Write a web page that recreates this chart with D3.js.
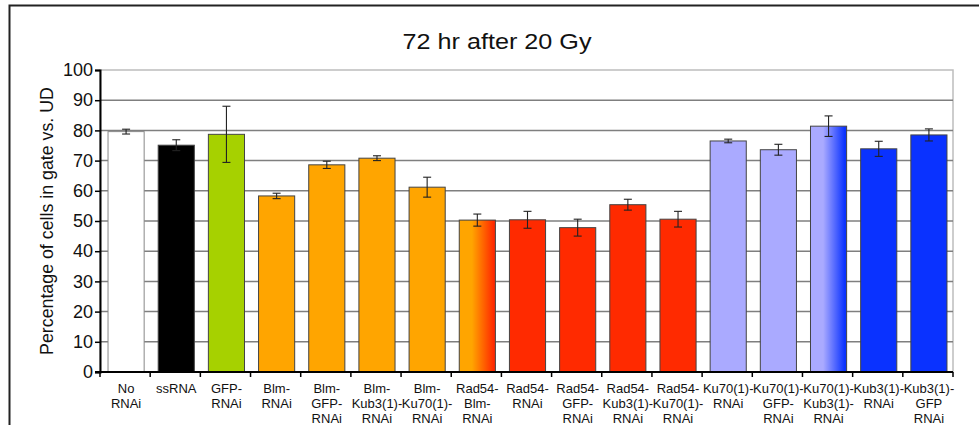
<!DOCTYPE html>
<html>
<head>
<meta charset="utf-8">
<script src="https://cdn.jsdelivr.net/npm/d3@7"></script>
<style>
  body { margin: 0; background: #fff; }
  svg text { font-family: "Liberation Sans", Arial, sans-serif; fill: #111; }
</style>
</head>
<body>
<div id="chart"></div>
<script>
/* global d3 */

// DATA
var categories = [
  'No|RNAi', 'ssRNA', 'GFP-|RNAi', 'Blm-|RNAi', 'Blm-|GFP-|RNAi', 'Blm-|Kub3(1)-|RNAi',
  'Blm-|Ku70(1)-|RNAi', 'Rad54-|Blm-|RNAi', 'Rad54-|RNAi', 'Rad54-|GFP-|RNAi',
  'Rad54-|Kub3(1)-|RNAi', 'Rad54-|Ku70(1)-|RNAi', 'Ku70(1)-|RNAi', 'Ku70(1)-|GFP-|RNAi',
  'Ku70(1)-|Kub3(1)-|RNAi', 'Kub3(1)-|RNAi', 'Kub3(1)-|GFP|RNAi'
];
var values = [79.6, 75.1, 78.7, 58.3, 68.6, 70.8, 61.2, 50.3, 50.4, 47.8, 55.4, 50.6, 76.5, 73.6, 81.4, 73.9, 78.5];
var errors = [0.8, 1.8, 9.3, 0.9, 1.2, 0.8, 3.3, 2.0, 2.8, 2.8, 1.8, 2.6, 0.6, 1.8, 3.4, 2.5, 2.0];
var groups = ['none', 'ss', 'gfp', 'blm', 'blm', 'blm', 'blm', 'blmrad', 'rad', 'rad', 'rad', 'rad',
  'ku', 'ku', 'kukub', 'kub', 'kub'];
var yTicks = [0, 10, 20, 30, 40, 50, 60, 70, 80, 90, 100];
var title = '72 hr after 20 Gy';
var yLabel = 'Percentage of cells in gate vs. UD';

var width = 979, height = 425,
  margin = { top: 70, left: 100, right: 26, bottom: 53 };

var svg = d3.select('#chart').append('svg')
  .attr('width', width)
  .attr('height', height);

// gradients for the two mixed bars
var defs = svg.append('defs');
function gradient(id, c1, c2) {
  var g = defs.append('linearGradient').attr('id', id)
    .attr('x1', 0).attr('x2', 1).attr('y1', 0).attr('y2', 0);
  g.append('stop').attr('offset', 0).attr('stop-color', c1);
  g.append('stop').attr('offset', 0.35).attr('stop-color', c1);
  g.append('stop').attr('offset', 0.95).attr('stop-color', c2);
  g.append('stop').attr('offset', 1).attr('stop-color', c2);
}
gradient('gBlmRad', '#ffa500', '#ff2a00');
gradient('gKuKub', '#aaaaff', '#0a32ff');

var color = d3.scaleOrdinal()
  .domain(['none', 'ss', 'gfp', 'blm', 'blmrad', 'rad', 'ku', 'kukub', 'kub'])
  .range(['#ffffff', '#000000', '#a6d100', '#ffa500', 'url(#gBlmRad)', '#ff2a00', '#aaaaff', 'url(#gKuKub)', '#0a32ff']);

var x = d3.scaleBand()
  .domain(categories)
  .range([margin.left, width - margin.right])
  .paddingInner(0.28)
  .paddingOuter(0.14);

var bandStep = (width - margin.right - margin.left) / categories.length;

var y = d3.scaleLinear()
  .domain([0, 100])
  .range([height - margin.bottom, margin.top]);

// outer frame (top + left)
svg.append('path')
  .attr('d', 'M9.5,' + height + 'V5.5H' + width)
  .attr('fill', 'none')
  .attr('stroke', '#222')
  .attr('stroke-width', 2);

// plot area frame
svg.append('rect')
  .attr('x', margin.left)
  .attr('y', y(100))
  .attr('width', width - margin.right - margin.left)
  .attr('height', y(0) - y(100))
  .attr('fill', 'none')
  .attr('stroke', '#bdbdbd')
  .attr('stroke-width', 1.5);

// gridlines
svg.append('g')
  .selectAll('line')
  .data(yTicks.filter(function (d) { return d > 0 && d < 100; }))
  .enter().append('line')
  .attr('x1', margin.left)
  .attr('x2', width - margin.right)
  .attr('y1', function (d) { return y(d); })
  .attr('y2', function (d) { return y(d); })
  .attr('stroke', '#7f7f7f')
  .attr('stroke-width', 1.5);

// bars
svg.append('g')
  .selectAll('rect')
  .data(categories)
  .enter().append('rect')
  .attr('x', function (d) { return x(d) + 1; })
  .attr('y', function (d, i) { return y(values[i]); })
  .attr('width', x.bandwidth())
  .attr('height', function (d, i) { return y(0) - y(values[i]); })
  .attr('fill', function (d, i) { return color(groups[i]); })
  .attr('stroke', function (d, i) { return groups[i] === 'none' ? '#888' : '#444'; })
  .attr('stroke-width', 1);

// error bars
var eb = svg.append('g')
  .attr('stroke', '#222')
  .attr('stroke-width', 1.1)
  .selectAll('g')
  .data(categories)
  .enter().append('g')
  .attr('transform', function (d) { return 'translate(' + (x(d) + 1 + x.bandwidth() / 2) + ',0)'; });
eb.append('line')
  .attr('y1', function (d, i) { return y(values[i] + errors[i]); })
  .attr('y2', function (d, i) { return y(values[i] - errors[i]); });
eb.append('line')
  .attr('x1', -4).attr('x2', 4)
  .attr('y1', function (d, i) { return y(values[i] + errors[i]); })
  .attr('y2', function (d, i) { return y(values[i] + errors[i]); });
eb.append('line')
  .attr('x1', -4).attr('x2', 4)
  .attr('y1', function (d, i) { return y(values[i] - errors[i]); })
  .attr('y2', function (d, i) { return y(values[i] - errors[i]); });

// y axis
var yAxis = d3.axisLeft(y)
  .tickValues(yTicks)
  .tickSize(5)
  .tickPadding(2);
var gy = svg.append('g')
  .attr('transform', 'translate(' + margin.left + ',0)')
  .call(yAxis);
gy.select('.domain').attr('stroke', '#000').attr('stroke-width', 2);
gy.selectAll('.tick line').attr('stroke', '#000').attr('stroke-width', 1.5);
gy.selectAll('.tick text')
  .style('font-size', '18px')
  .style('font-family', '"Liberation Sans", Arial, sans-serif')
  .attr('fill', '#222');

// x axis: ticks between categories
var gx = svg.append('g')
  .attr('transform', 'translate(0,' + y(0) + ')');
gx.append('line')
  .attr('x1', margin.left - 5)
  .attr('x2', width - margin.right)
  .attr('stroke', '#000')
  .attr('stroke-width', 2);
gx.selectAll('.sep')
  .data(d3.range(categories.length + 1))
  .enter().append('line')
  .attr('class', 'sep')
  .attr('x1', function (i) { return margin.left + i * bandStep; })
  .attr('x2', function (i) { return margin.left + i * bandStep; })
  .attr('y1', 0).attr('y2', 5)
  .attr('stroke', '#000')
  .attr('stroke-width', 1.5);

var labels = gx.selectAll('.lbl')
  .data(categories)
  .enter().append('text')
  .attr('class', 'lbl')
  .attr('text-anchor', 'middle')
  .style('font-size', '13px')
  .attr('transform', function (d) { return 'translate(' + (x(d) + 1 + x.bandwidth() / 2) + ',0)'; });
labels.selectAll('tspan')
  .data(function (d) { return d.split('|'); })
  .enter().append('tspan')
  .attr('x', 0)
  .attr('y', function (d, i) { return 21 + i * 15; })
  .text(function (d) { return d; });

// title
svg.append('text')
  .attr('x', 497)
  .attr('y', 49)
  .attr('text-anchor', 'middle')
  .attr('textLength', 189)
  .attr('lengthAdjust', 'spacingAndGlyphs')
  .style('font-size', '22px')
  .text(title);

// y label
svg.append('text')
  .attr('transform', 'translate(53,' + ((y(0) + y(100)) / 2) + ') rotate(-90)')
  .attr('text-anchor', 'middle')
  .style('font-size', '17.8px')
  .text(yLabel);
</script>
</body>
</html>
